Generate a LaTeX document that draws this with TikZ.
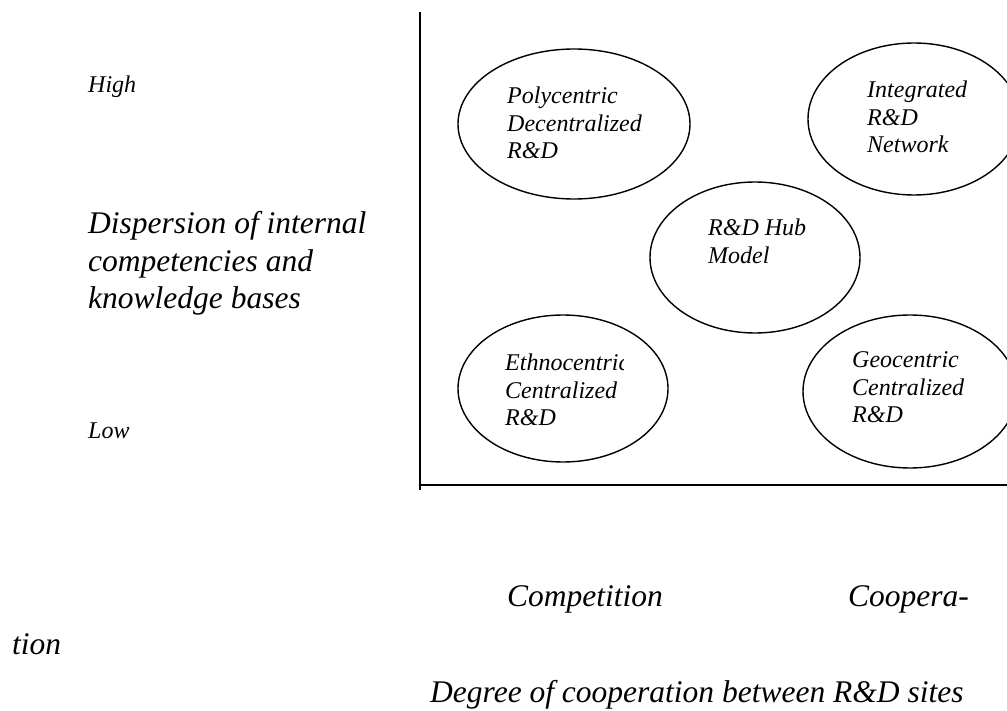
\documentclass[tikz,border=0pt]{standalone}
\usepackage{fontspec}
\setmainfont{Liberation Serif}
\usetikzlibrary{shapes}
\def\oval#1#2#3#4{\node[bubble,minimum width=#3pt,minimum height=#4pt] (#1) at (#2) {}}
\tikzstyle{bubble}=[ellipse,draw,line width=1.4pt,inner sep=0pt]
\tikzstyle{txt}=[anchor=north west,inner sep=0pt,align=left,font=\itshape\fontsize{24}{27.5}\selectfont]
\tikzstyle{bigtxt}=[txt,font=\itshape\fontsize{31.5}{37.5}\selectfont]
\tikzstyle{axis}=[line width=2pt]

\begin{document}
\begin{tikzpicture}[x=1pt,y=-1pt]
    \useasboundingbox (0,0) rectangle (1007,711);
    % axes
    \coordinate (ytop) at (420,12);
    \coordinate (ybot) at (420,490);
    \coordinate (origin) at (419,485);
    \coordinate (xend) at (1007,485);
    \draw[axis] (ytop) -- (ybot);
    \draw[axis] (origin) -- (xend);
    % the five R&D models
    \oval{poly}{574,124}{232}{150};
    \oval{integ}{914,119}{212}{152};
    \oval{hub}{755,257.5}{210}{151};
    \oval{ethno}{563,388.5}{210}{147};
    \oval{geo}{910,391.5}{214}{153};
    \node[txt] (polytxt) at (507,86.7) {Polycentric\\Decentralized\\R\&D};
    \node[txt] (integtxt) at (867,80.7) {Integrated\\R\&D\\Network};
    \node[txt] (hubtxt) at (708,218.7) {R\&D Hub\\Model};
    \begin{scope}
      \clip (458,300) rectangle (623,470);
      \node[txt] (ethnotxt) at (505,353.7) {Ethnocentric\\Centralized\\R\&D};
    \end{scope}
    \node[txt] (geotxt) at (852,351.7) {Geocentric\\Centralized\\R\&D};
    % vertical axis labels
    \node[txt] (high) at (88,75.7) {High};
    \node[bigtxt] (ylabel) at (88,211.6) {Dispersion of internal\\competencies and\\knowledge bases};
    \node[txt] (low) at (88,422.7) {Low};
    % horizontal axis labels
    \node[bigtxt] (compet) at (507,585.6) {Competition};
    \node[bigtxt] (coop) at (848,585.6) {Coopera-};
    \node[bigtxt] (coop2) at (12,633.6) {tion};
    \node[bigtxt] (xlabel) at (430,680.6) {Degree of cooperation between R\&D sites};
\end{tikzpicture}
\end{document}
